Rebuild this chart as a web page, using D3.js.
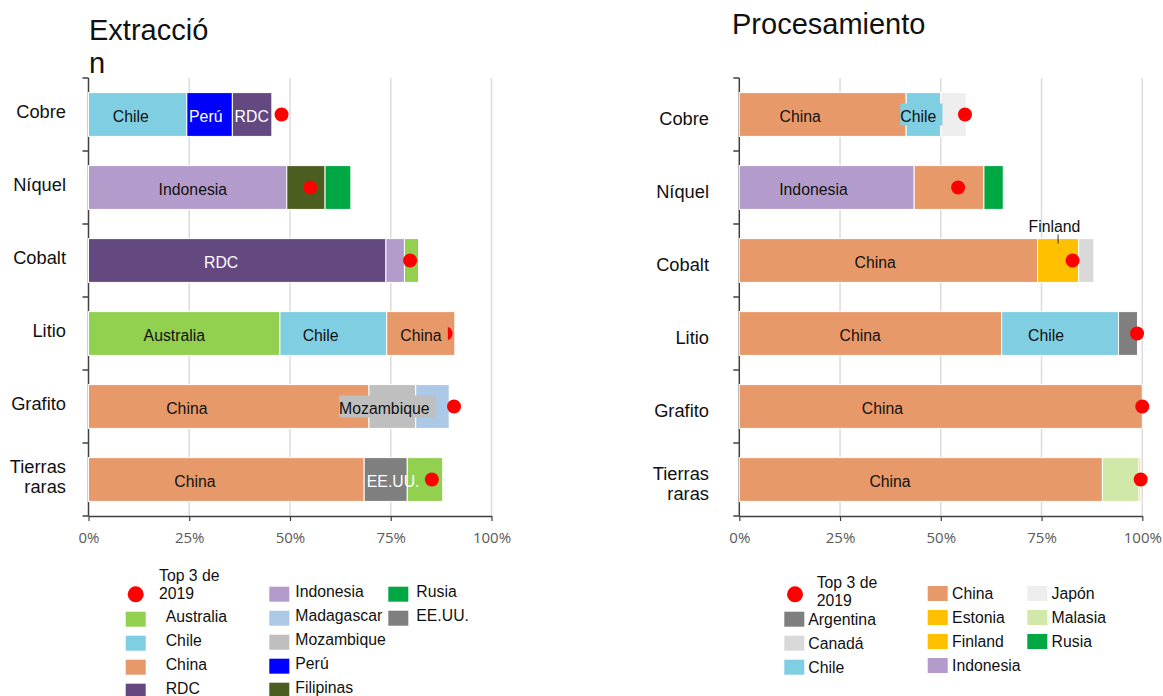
<!DOCTYPE html>
<html>
<head>
<meta charset="utf-8">
<script src="https://cdn.jsdelivr.net/npm/d3@7"></script>
<style>
  html, body { margin: 0; padding: 0; background: #fff; }
  svg { display: block; font-family: "Liberation Sans", Arial, sans-serif; }
</style>
</head>
<body>
<svg id="chart" width="1163" height="696"></svg>
<script>
// ---- data -------------------------------------------------------------
const categories = ["Cobre", "Níquel", "Cobalt", "Litio", "Grafito", "Tierras raras"];
const percentTicks = [0, 25, 50, 75, 100];

// Extracción: three largest producers per mineral (share of world output, %)
const extCountries = [
  ["Chile", "Perú", "RDC"],
  ["Indonesia", "Filipinas", "Rusia"],
  ["RDC", "Indonesia", "Australia"],
  ["Australia", "Chile", "China"],
  ["China", "Mozambique", "Madagascar"],
  ["China", "EE.UU.", "Australia"]
];
const extShares = [
  [24.4, 11.3, 9.8],
  [49.2, 9.5, 6.4],
  [73.8, 4.6, 3.5],
  [47.5, 26.5, 16.9],
  [69.6, 11.6, 8.3],
  [68.4, 10.7, 8.8]
];
const extTop3_2019 = [47.9, 55.0, 79.8, 88.6, 90.7, 85.2];

// Procesamiento: three largest processors per mineral (%)
const procCountries = [
  ["China", "Chile", "Japón"],
  ["Indonesia", "China", "Rusia"],
  ["China", "Finland", "Canadá"],
  ["China", "Chile", "Argentina"],
  ["China"],
  ["China", "Malasia", "Estonia"]
];
const procShares = [
  [41.4, 8.6, 6.3],
  [43.4, 17.3, 4.8],
  [74.0, 10.2, 3.8],
  [65.1, 29.0, 4.7],
  [100],
  [90.1, 9.1, 0.4]
];
const procTop3_2019 = [56.0, 54.3, 82.7, 98.7, 100, 99.6];

// in-bar country labels: mineral, country, anchor point on the % scale
const extLabels = [
  { cat: "Cobre", name: "Chile", at: 10.5 },
  { cat: "Cobre", name: "Perú", at: 29.1 },
  { cat: "Cobre", name: "RDC", at: 40.5 },
  { cat: "Níquel", name: "Indonesia", at: 25.9 },
  { cat: "Cobalt", name: "RDC", at: 32.9 },
  { cat: "Litio", name: "Australia", at: 21.3 },
  { cat: "Litio", name: "Chile", at: 57.6 },
  { cat: "Litio", name: "China", at: 82.5, boxed: true },
  { cat: "Grafito", name: "China", at: 24.4 },
  { cat: "Grafito", name: "Mozambique", at: 73.4, boxed: true },
  { cat: "Tierras raras", name: "China", at: 26.4 },
  { cat: "Tierras raras", name: "EE.UU.", at: 75.6 }
];
const procLabels = [
  { cat: "Cobre", name: "China", at: 15.1 },
  { cat: "Cobre", name: "Chile", at: 44.4, boxed: true },
  { cat: "Níquel", name: "Indonesia", at: 18.4 },
  { cat: "Cobalt", name: "China", at: 33.7 },
  { cat: "Cobalt", name: "Finland", at: 78.2, callout: true },
  { cat: "Litio", name: "China", at: 30.0 },
  { cat: "Litio", name: "Chile", at: 76.1 },
  { cat: "Grafito", name: "China", at: 35.5 },
  { cat: "Tierras raras", name: "China", at: 37.4 }
];

const extLegend = [
  ["Australia", "Chile", "China", "RDC"],
  ["Indonesia", "Madagascar", "Mozambique", "Perú", "Filipinas"],
  ["Rusia", "EE.UU."]
];
const procLegend = [
  ["Argentina", "Canadá", "Chile"],
  ["China", "Estonia", "Finland", "Indonesia"],
  ["Japón", "Malasia", "Rusia"]
];

const countryColors = {
  "Chile": "#80cee1",
  "Perú": "#0000ff",
  "RDC": "#644880",
  "Indonesia": "#b39ccb",
  "Filipinas": "#4b5d1f",
  "Rusia": "#00a843",
  "Australia": "#92d050",
  "China": "#e8996a",
  "Mozambique": "#bfbfbf",
  "Madagascar": "#abc8e6",
  "EE.UU.": "#7f7f7f",
  "Argentina": "#7f7f7f",
  "Canadá": "#d9d9d9",
  "Japón": "#eeeeee",
  "Estonia": "#ffc000",
  "Finland": "#ffc000",
  "Malasia": "#d0e8a8"
};
const topColor = "#ff0000";
const topLabel = ["Top 3 de", "2019"];

// ---- drawing ----------------------------------------------------------
const svg = d3.select("#chart");
const plotTop = 78, plotBottom = 516;

function drawPanel(cfg) {
  const x = d3.scaleLinear().domain([0, 100]).range(cfg.xRange);
  const y = d3.scaleBand().domain(categories).range([plotTop, plotBottom])
    .paddingInner(0.4).paddingOuter(0.2);
  const bw = y.bandwidth();
  const g = svg.append("g");

  // title (wrapped as in the layout)
  const title = g.append("text").attr("x", cfg.titleX).attr("y", cfg.titleY)
    .attr("font-size", 29).attr("fill", "#111");
  cfg.title.forEach((line, i) => {
    title.append("tspan").attr("x", cfg.titleX).attr("dy", i === 0 ? 0 : 33).text(line);
  });

  // vertical gridlines
  g.append("g").selectAll("line").data(percentTicks.slice(1)).join("line")
    .attr("x1", d => x(d)).attr("x2", d => x(d))
    .attr("y1", plotTop).attr("y2", plotBottom)
    .attr("stroke", "#dcdcdc").attr("stroke-width", 1.5);

  // x axis
  const xAxis = d3.axisBottom(x).tickValues(percentTicks)
    .tickFormat(d => d + "%").tickSize(5).tickSizeOuter(0);
  const ax = g.append("g").attr("transform", `translate(0,${plotBottom})`).call(xAxis);
  ax.select(".domain").attr("stroke", "#404040").attr("stroke-width", 1.5);
  ax.selectAll(".tick line").attr("stroke", "#404040").attr("stroke-width", 1.2);
  ax.selectAll(".tick text").attr("y", 16).attr("dy", "0.71em")
    .attr("font-family", "'Open Sans', sans-serif").attr("font-size", 15).attr("fill", "#5a5a5a");

  // y axis: line with ticks on the band boundaries
  const x0 = x(0);
  g.append("line").attr("x1", x0).attr("x2", x0).attr("y1", plotTop).attr("y2", plotBottom)
    .attr("stroke", "#404040").attr("stroke-width", 1.5);
  const bounds = d3.range(categories.length + 1).map(i => plotTop + i * y.step());
  g.append("g").selectAll("line").data(bounds).join("line")
    .attr("x1", x0 - 6).attr("x2", x0).attr("y1", d => d).attr("y2", d => d)
    .attr("stroke", "#404040").attr("stroke-width", 1.5);

  // category labels
  categories.forEach(cat => {
    const words = cat.split(" ");
    const cy = y(cat) + bw / 2 + cfg.catDy;
    const t = g.append("text").attr("text-anchor", "end").attr("font-size", 18.3).attr("fill", "#111");
    words.forEach((w, i) => {
      t.append("tspan").attr("x", cfg.catX)
        .attr("y", cy + (i - (words.length - 1) / 2) * 20.5)
        .attr("dy", "0.35em").text(w);
    });
  });

  // stacked segments
  const segs = [];
  categories.forEach((cat, i) => {
    const ends = d3.cumsum(cfg.shares[i]);
    cfg.countries[i].forEach((c, j) => {
      segs.push({ cat, country: c, start: j ? ends[j - 1] : 0, end: ends[j] });
    });
  });
  g.append("g").selectAll("rect").data(segs).join("rect")
    .attr("x", d => x(d.start)).attr("width", d => x(d.end) - x(d.start))
    .attr("y", d => y(d.cat)).attr("height", bw)
    .attr("fill", d => countryColors[d.country])
    .attr("stroke", "#fff").attr("stroke-width", 1);

  // 2019 top-3 markers
  g.append("g").selectAll("circle").data(categories).join("circle")
    .attr("cx", (d, i) => x(cfg.top3[i])).attr("cy", d => y(d) + bw / 2)
    .attr("r", 7).attr("fill", topColor);

  // country labels
  cfg.labels.forEach(l => {
    const fill = countryColors[l.name];
    const cy = y(l.cat) + bw / 2;
    if (l.callout) {
      const seg = segs.find(s => s.cat === l.cat && s.country === l.name);
      const lx = x((seg.start + seg.end) / 2);
      g.append("line").attr("x1", lx).attr("x2", lx)
        .attr("y1", y(l.cat) - 4).attr("y2", y(l.cat) + 5)
        .attr("stroke", "#333").attr("stroke-width", 1);
      g.append("text").attr("x", x(l.at)).attr("y", y(l.cat) - 12)
        .attr("text-anchor", "middle").attr("dy", "0.35em")
        .attr("font-size", 15.8).attr("fill", "#111").text(l.name);
      return;
    }
    const dark = d3.lab(fill).l < 60;
    const t = g.append("text").attr("x", x(l.at)).attr("y", cy + 1.5)
      .attr("text-anchor", "middle").attr("dy", "0.35em")
      .attr("font-size", 15.8).attr("fill", dark ? "#fff" : "#111").text(l.name);
    if (l.boxed) {
      const b = t.node().getBBox();
      g.insert("rect", () => t.node())
        .attr("x", b.x).attr("y", cy - 11)
        .attr("width", b.width + 6).attr("height", 22)
        .attr("fill", fill);
    }
  });

  // legend
  const lg = cfg.legend;
  g.append("circle").attr("cx", lg.dot[0]).attr("cy", lg.dot[1]).attr("r", 8).attr("fill", topColor);
  const tt = g.append("text").attr("font-size", 15.8).attr("fill", "#111");
  topLabel.forEach((line, i) => {
    tt.append("tspan").attr("x", lg.dotText[0]).attr("y", lg.dotText[1] + i * 18.5)
      .attr("dy", "0.35em").text(line);
  });
  cfg.legendItems.forEach((col, ci) => {
    col.forEach((name, ri) => {
      const sy = lg.colY[ci] + ri * 24;
      g.append("rect").attr("x", lg.colX[ci]).attr("y", sy)
        .attr("width", 20).attr("height", 15).attr("fill", countryColors[name]);
      g.append("text").attr("x", lg.colX[ci] + 20 + lg.gap[ci]).attr("y", sy + lg.textDy)
        .attr("dy", "0.35em").attr("font-size", 15.8).attr("fill", "#111").text(name);
    });
  });
}

drawPanel({
  title: ["Extracció", "n"], titleX: 89, titleY: 40,
  xRange: [88.5, 491.5], catX: 66, catDy: -3,
  countries: extCountries, shares: extShares, top3: extTop3_2019, labels: extLabels,
  legendItems: extLegend,
  legend: { dot: [135.7, 594.3], dotText: [159, 575], colX: [125.7, 269.3, 388.3],
            colY: [611.7, 586.7, 586.7], gap: [20, 6, 8], textDy: 5 }
});

drawPanel({
  title: ["Procesamiento"], titleX: 732, titleY: 34,
  xRange: [739.3, 1142.3], catX: 709, catDy: 4,
  countries: procCountries, shares: procShares, top3: procTop3_2019, labels: procLabels,
  legendItems: procLegend,
  legend: { dot: [795, 594.3], dotText: [816.7, 582.3], colX: [784.3, 927.7, 1027.3],
            colY: [611.7, 586, 586], gap: [4, 4.4, 4.3], textDy: 7.5 }
});
</script>
</body>
</html>
